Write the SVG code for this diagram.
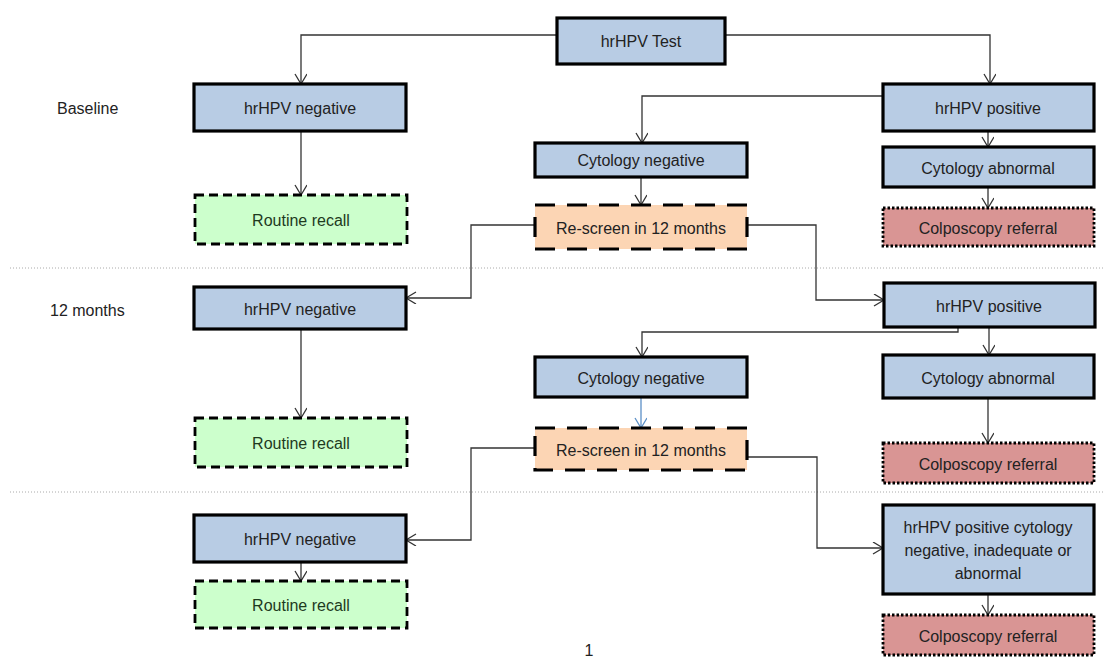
<svg xmlns="http://www.w3.org/2000/svg" width="1104" height="657" viewBox="0 0 1104 657">
<style>
text{font-family:"Liberation Sans",Arial,sans-serif;font-size:16px;fill:#222;text-anchor:middle;dominant-baseline:central}
.lbl{text-anchor:start}
.blue{fill:#b8cce4;stroke:#000;stroke-width:3.2}
.green{fill:#ccffcc;stroke:#000;stroke-width:2.8;stroke-dasharray:9,5}
.orange{fill:#fcd5b4;stroke:#000;stroke-width:3.2;stroke-dasharray:20,12}
.red{fill:#d99594;stroke:#000;stroke-width:2.8;stroke-dasharray:2.5,2}
.green+text{fill:#1e3a1e}
.sep{stroke:#aaa;stroke-width:1;stroke-dasharray:1,2}
#connectors path{fill:none;stroke:#333;stroke-width:1.3}
</style>
<defs>
<marker id="arr" markerUnits="userSpaceOnUse" markerWidth="14" markerHeight="14" refX="11" refY="6" orient="auto">
<path d="M1,0 L11,6 L1,12" fill="none" stroke="#333" stroke-width="1.3"/>
</marker>
<marker id="arrb" markerUnits="userSpaceOnUse" markerWidth="14" markerHeight="14" refX="11" refY="6" orient="auto">
<path d="M1,0 L11,6 L1,12" fill="none" stroke="#5b8fc7" stroke-width="1.3"/>
</marker>
</defs>
<rect width="1104" height="657" fill="#fff"/>
<line class="sep" x1="10" y1="268" x2="1104" y2="268"/>
<line class="sep" x1="10" y1="492" x2="1104" y2="492"/>
<text class="lbl" x="57" y="108">Baseline</text>
<text class="lbl" x="50" y="310">12 months</text>
<text x="589" y="650">1</text>
<g id="connectors">
<path d="M557,35 H301 V84" marker-end="url(#arr)"/>
<path d="M725,35 H990 V84" marker-end="url(#arr)"/>
<path d="M883,96 H642 V143" marker-end="url(#arr)"/>
<path d="M988,131 V147" marker-end="url(#arr)"/>
<path d="M641,177 V205" marker-end="url(#arr)"/>
<path d="M988,187 V208" marker-end="url(#arr)"/>
<path d="M301,131 V195" marker-end="url(#arr)"/>
<path d="M535,225 H471 V298 H406" marker-end="url(#arr)"/>
<path d="M746,225 H816 V300 H884" marker-end="url(#arr)"/>
<path d="M958,327 V332 H642 V357" marker-end="url(#arr)"/>
<path d="M989,327 V355" marker-end="url(#arr)"/>
<path d="M641,397 V428" marker-end="url(#arrb)" style="stroke:#5b8fc7"/>
<path d="M988,398 V443" marker-end="url(#arr)"/>
<path d="M301,329 V418" marker-end="url(#arr)"/>
<path d="M535,448 H471 V540 H406" marker-end="url(#arr)"/>
<path d="M746,457 H817 V548 H883" marker-end="url(#arr)"/>
<path d="M301,562 V581" marker-end="url(#arr)"/>
<path d="M988,594 V615" marker-end="url(#arr)"/>
</g>
<g id="test"><rect class="blue" x="557" y="18" width="168" height="46"/><text x="641" y="41">hrHPV Test</text></g>
<g id="neg1"><rect class="blue" x="194" y="84" width="212" height="47"/><text x="300" y="108">hrHPV negative</text></g>
<g id="pos1"><rect class="blue" x="883" y="84" width="211" height="47"/><text x="988" y="108">hrHPV positive</text></g>
<g id="cytneg1"><rect class="blue" x="535" y="143" width="212" height="34"/><text x="641" y="160">Cytology negative</text></g>
<g id="cytab1"><rect class="blue" x="883" y="147" width="211" height="40"/><text x="988" y="168">Cytology abnormal</text></g>
<g id="rr1"><rect class="green" x="195" y="195" width="212" height="49"/><text x="301" y="220">Routine recall</text></g>
<g id="rs1"><rect class="orange" x="535" y="205" width="212" height="44"/><text x="641" y="228">Re-screen in 12 months</text></g>
<g id="colp1"><rect class="red" x="883" y="208" width="211" height="38"/><text x="988" y="228">Colposcopy referral</text></g>
<g id="neg2"><rect class="blue" x="194" y="287" width="212" height="42"/><text x="300" y="309">hrHPV negative</text></g>
<g id="pos2"><rect class="blue" x="884" y="283" width="211" height="44"/><text x="989" y="306">hrHPV positive</text></g>
<g id="cytneg2"><rect class="blue" x="535" y="357" width="212" height="40"/><text x="641" y="378">Cytology negative</text></g>
<g id="cytab2"><rect class="blue" x="883" y="355" width="211" height="43"/><text x="988" y="378">Cytology abnormal</text></g>
<g id="rr2"><rect class="green" x="195" y="418" width="212" height="49"/><text x="301" y="443">Routine recall</text></g>
<g id="rs2"><rect class="orange" x="535" y="428" width="212" height="42"/><text x="641" y="450">Re-screen in 12 months</text></g>
<g id="colp2"><rect class="red" x="883" y="443" width="211" height="40"/><text x="988" y="464">Colposcopy referral</text></g>
<g id="neg3"><rect class="blue" x="194" y="515" width="212" height="47"/><text x="300" y="539">hrHPV negative</text></g>
<g id="rr3"><rect class="green" x="195" y="581" width="212" height="47"/><text x="301" y="605">Routine recall</text></g>
<g id="pos3"><rect class="blue" x="883" y="505" width="211" height="89"/><text x="988" y="527">hrHPV positive cytology</text><text x="988" y="550">negative, inadequate or</text><text x="988" y="573">abnormal</text></g>
<g id="colp3"><rect class="red" x="883" y="615" width="211" height="40"/><text x="988" y="636">Colposcopy referral</text></g>
</svg>
